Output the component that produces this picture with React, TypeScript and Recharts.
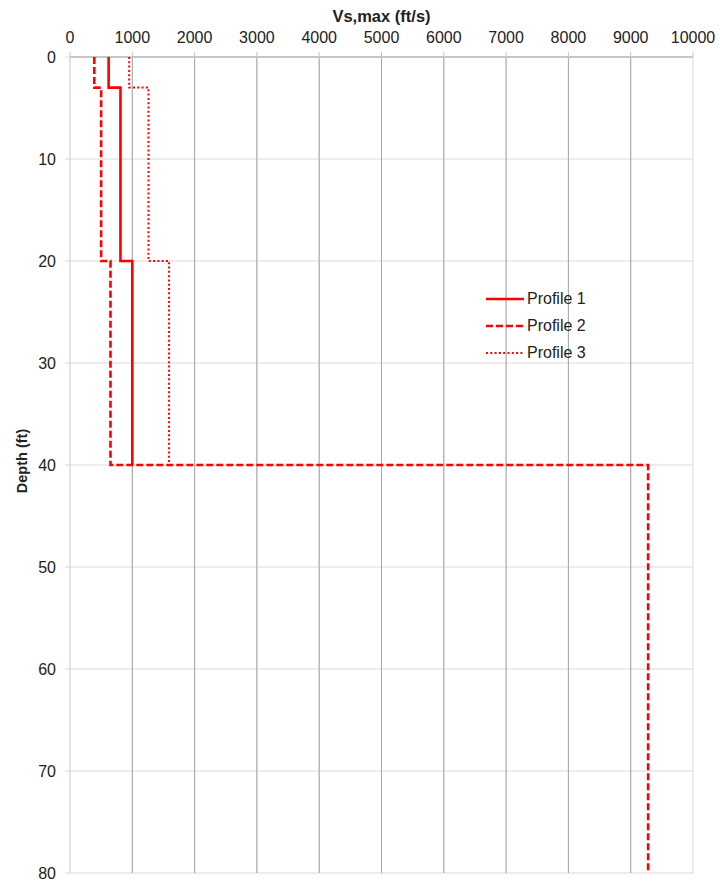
import { ScatterChart, Scatter, XAxis, YAxis, CartesianGrid, ReferenceLine } from 'recharts'

const vsTicks = [0, 1000, 2000, 3000, 4000, 5000, 6000, 7000, 8000, 9000, 10000]
const depthTicks = [0, 10, 20, 30, 40, 50, 60, 70, 80]

const profile1Vs = [620, 620, 810, 810, 1000, 1000]
const profile1Depth = [0, 3, 3, 20, 20, 40]

const profile2Vs = [390, 390, 500, 500, 650, 650, 9280, 9280]
const profile2Depth = [0, 3, 3, 20, 20, 40, 40, 80]

const profile3Vs = [950, 950, 1260, 1260, 1590, 1590]
const profile3Depth = [0, 3, 3, 20, 20, 40]

const FONT = '"Liberation Sans", Arial, sans-serif'
const RED = '#ff0000'

function toPoints(vs: number[], depth: number[]) {
  return vs.map((v, i) => ({ vs: v, depth: depth[i] }))
}

const series = [
  { name: 'Profile 1', data: toPoints(profile1Vs, profile1Depth), width: 2.6, dash: undefined },
  { name: 'Profile 2', data: toPoints(profile2Vs, profile2Depth), width: 2.6, dash: '7 3' },
  { name: 'Profile 3', data: toPoints(profile3Vs, profile3Depth), width: 2, dash: '2 2.3' },
]

const noDot = () => <g />

export default function App() {
  return (
    <div style={{ position: 'absolute', left: 0, top: 0, width: 720, height: 882, background: '#fff', fontFamily: FONT }}>
      <ScatterChart width={720} height={882} margin={{ top: 0, right: 27, bottom: 9, left: 0 }}>
        <CartesianGrid stroke="#d9d9d9" />
        {vsTicks.slice(1, -1).map((v) => (
          <ReferenceLine key={v} x={v} stroke="#a6a6a6" strokeWidth={1} />
        ))}
        <XAxis
          type="number"
          dataKey="vs"
          orientation="top"
          domain={[0, 10000]}
          ticks={vsTicks}
          height={57}
          interval={0}
          tickSize={5}
          tickMargin={9}
          axisLine={{ stroke: '#c6c6c6', strokeWidth: 2 }}
          tickLine={{ stroke: '#c6c6c6' }}
          tick={{ fill: '#222', fontSize: 16, fontFamily: FONT }}
          label={{
            content: ({ viewBox }: any) => (
              <text
                x={viewBox.x + viewBox.width / 2}
                y={21.5}
                textAnchor="middle"
                fontFamily={FONT}
                fontSize={16.5}
                fontWeight="bold"
                fill="#222"
              >
                Vs,max (ft/s)
              </text>
            ),
          }}
        />
        <YAxis
          type="number"
          dataKey="depth"
          reversed
          domain={[0, 80]}
          ticks={depthTicks}
          width={70}
          interval={0}
          tickSize={5}
          tickMargin={9}
          axisLine={{ stroke: '#d9d9d9' }}
          tickLine={{ stroke: '#d9d9d9' }}
          tick={{ fill: '#222', fontSize: 16, fontFamily: FONT }}
          label={{
            content: ({ viewBox }: any) => {
              const cy = viewBox.y + viewBox.height / 2 - 4
              return (
                <text
                  x={27}
                  y={cy}
                  transform={`rotate(-90, 27, ${cy})`}
                  textAnchor="middle"
                  fontFamily={FONT}
                  fontSize={14.5}
                  fontWeight="bold"
                  fill="#222"
                >
                  Depth (ft)
                </text>
              )
            },
          }}
        />
        {series.map((s) => (
          <Scatter
            key={s.name}
            name={s.name}
            data={s.data}
            fill={RED}
            shape={noDot}
            line={{ stroke: RED, strokeWidth: s.width, strokeDasharray: s.dash }}
            isAnimationActive={false}
          />
        ))}
      </ScatterChart>
      <div style={{ position: 'absolute', left: 486, top: 285, fontSize: 16, color: '#222' }}>
        {series.map((s) => (
          <div key={s.name} style={{ display: 'flex', alignItems: 'center', height: 27 }}>
            <svg width={38} height={6} style={{ marginRight: 3 }}>
              <line x1={0} y1={3} x2={38} y2={3} stroke={RED} strokeWidth={s.width} strokeDasharray={s.dash} />
            </svg>
            <span>{s.name}</span>
          </div>
        ))}
      </div>
    </div>
  )
}
